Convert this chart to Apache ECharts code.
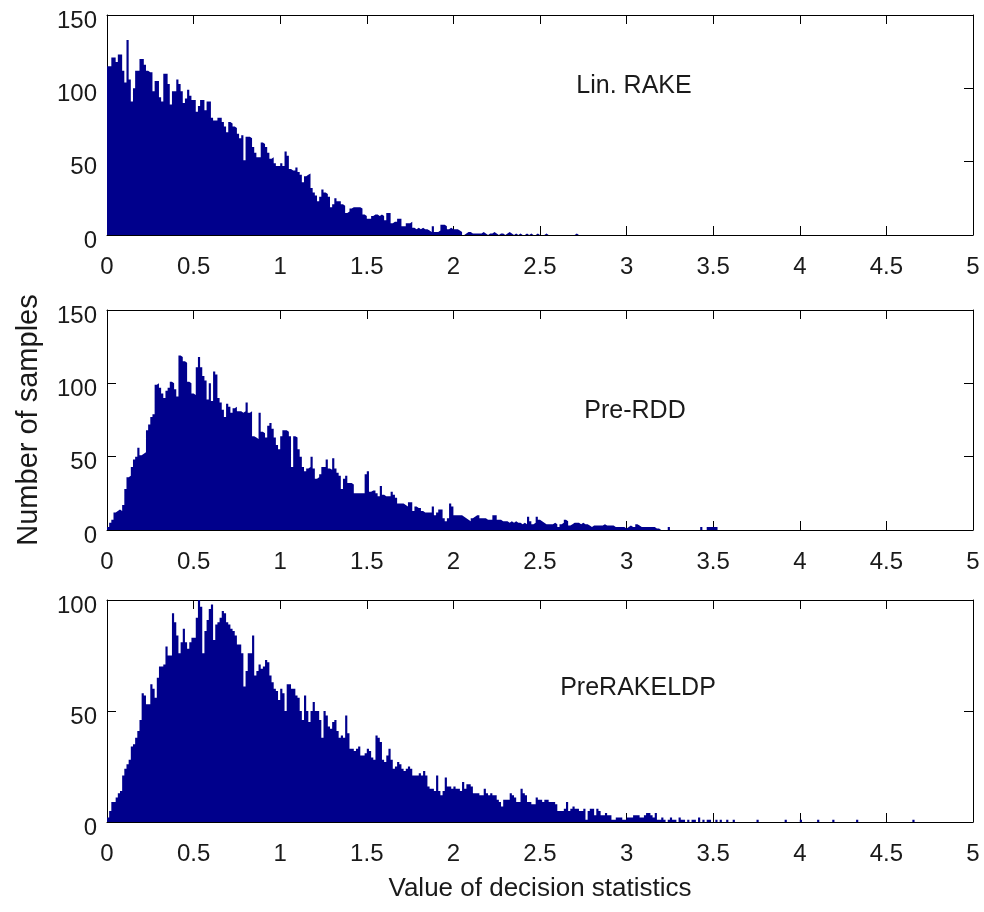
<!DOCTYPE html>
<html>
<head>
<meta charset="utf-8">
<script src="https://cdn.jsdelivr.net/npm/echarts@6/dist/echarts.min.js"></script>
<style>
html,body{margin:0;padding:0;background:#fff;}
#chart{width:984px;height:912px;}
</style>
</head>
<body>
<div id="chart"></div>
<script>
// Histogram bin width (value units); bins start at 0
const binWidth = 0.0125;
const xTicks = [0, 0.5, 1, 1.5, 2, 2.5, 3, 3.5, 4, 4.5, 5];
const panelLabels = ['Lin. RAKE', 'Pre-RDD', 'PreRAKELDP'];
const yMaxes = [150, 150, 100];
const xTitle = 'Value of decision statistics';
const yTitle = 'Number of samples';

// Lin. RAKE counts per bin
const linRake = [
115,115,121,121,118,123,123,112,104,133,
106,91,100,112,112,120,120,116,112,111,
111,98,105,105,94,91,110,110,103,89,
98,98,106,103,98,90,93,99,95,92,
92,84,88,92,92,85,91,91,80,78,
78,80,80,77,74,70,77,76,74,73,
69,66,68,51,67,67,66,60,56,53,
53,63,62,60,56,52,53,49,47,47,
49,47,57,54,45,44,44,46,43,41,
36,40,41,42,32,29,27,23,26,31,
29,28,26,19,21,25,23,23,21,20,
15,16,18,19,19,19,19,18,14,13,
11,11,13,14,14,13,14,13,10,15,
15,8,9,9,11,11,6,6,8,8,
9,5,4,5,4,5,4,4,3,2,
6,2,2,3,7,7,6,4,5,4,
4,4,3,2,0,1,2,2,1,1,
1,1,1,2,1,0,1,1,2,1,
0,1,1,0,1,2,1,0,1,0,
1,0,0,1,0,1,0,0,1,0,
0,0,1,0,0,0,0,0,0,0,
0,0,0,0,0,0,1,0,0,0,
0,0,0,0,0,1
];

// Pre-RDD counts per bin
const preRdd = [
2,5,7,12,13,14,13,17,28,36,
37,43,48,50,56,51,52,53,68,72,
77,79,99,100,97,93,90,95,97,101,
100,96,91,119,118,115,114,101,100,93,
92,111,118,111,105,102,89,100,88,108,
106,90,87,82,77,86,84,80,83,84,
81,81,80,81,87,80,81,64,63,62,
80,67,66,63,71,73,69,63,58,55,
64,68,68,67,64,43,64,63,55,50,
43,40,42,43,50,42,35,36,38,43,
43,48,42,41,49,42,39,37,28,35,
37,32,32,31,25,25,25,25,25,38,
40,26,27,27,25,23,30,24,23,23,
23,26,24,22,18,18,18,17,16,19,
19,13,16,15,15,13,12,12,12,12,
16,10,12,14,14,8,6,8,18,16,
10,10,10,10,9,8,7,6,8,9,
10,10,8,8,8,7,7,7,10,10,
7,7,6,6,6,5,6,5,6,5,
5,4,5,4,9,6,4,5,9,7,
6,5,4,4,4,4,5,4,2,4,
5,7,6,3,4,5,5,5,4,5,
4,4,3,2,3,3,3,3,3,4,
3,3,3,3,2,2,2,2,2,1,
2,3,2,2,4,3,2,2,2,2,
2,2,2,1,1,0,0,0,0,2,
0,0,0,0,0,0,0,0,0,0,
0,0,0,0,2,0,0,2,2,2,
2,2
];

// PreRAKELDP counts per bin
const preRakeLdp = [
2,5,9,9,11,13,14,21,24,26,
28,34,35,38,41,46,58,57,53,53,
62,60,56,65,70,70,71,79,75,75,
94,90,84,76,81,87,81,78,81,83,
83,92,100,97,76,86,91,96,98,82,
89,90,92,95,94,90,89,87,86,84,
80,80,76,61,68,76,76,84,66,68,
71,69,70,73,72,66,63,60,59,55,
60,58,50,62,62,60,60,57,56,50,
46,57,50,45,50,54,50,50,46,38,
50,48,43,42,45,46,41,38,39,38,
48,40,33,33,32,33,34,30,30,31,
33,32,29,28,39,38,36,28,27,30,
33,28,24,25,27,26,24,23,24,25,
24,21,21,21,22,21,23,21,16,15,
15,14,21,14,12,14,20,16,16,15,
16,15,15,14,18,15,17,17,16,13,
13,13,12,12,15,13,12,13,12,12,
10,9,7,10,10,10,13,12,11,9,
9,15,13,12,9,9,8,8,11,10,
10,9,10,10,9,9,9,8,5,5,
5,6,9,5,6,7,6,6,5,5,
6,1,5,6,6,3,6,5,3,3,
4,3,3,1,1,2,2,2,1,1,
2,2,2,3,3,3,2,2,3,4,
4,3,2,4,1,1,2,1,0,1,
2,1,1,0,2,1,1,0,1,0,
1,1,0,2,0,1,0,1,1,0,
0,1,0,1,0,0,1,0,0,1,
0,0,0,0,0,0,0,0,0,0,
1,0,0,0,0,0,0,0,0,0,
0,0,0,1,0,0,0,0,0,0,
1,0,0,0,0,0,0,0,1,0,
0,0,0,0,0,1,0,0,0,0,
0,0,0,0,0,0,1,0,0,0,
0,0,0,0,0,0,0,0,0,0,
0,0,0,0,0,0,0,0,0,0,
0,0,1
];

const seriesCounts = [linRake, preRdd, preRakeLdp];

const FONT = 'Liberation Sans, Arial, Helvetica, sans-serif';
const TXT = '#1a1a1a';
const BAR = '#00008C';

const gridDefs = [
  {left: 107, top: 15, width: 866, height: 220},
  {left: 107, top: 310, width: 866, height: 220},
  {left: 107, top: 600, width: 866, height: 222}
];
const annotPos = [[634, 86], [635, 411], [638, 688]];

// histogram as stepped outline: point at each bin's left edge, closing point at last right edge
function binsToSteps(counts) {
  const out = counts.map((c, i) => [i * binWidth, c]);
  out.push([counts.length * binWidth, 0]);
  return out;
}

const axisLineStyle = {show: true, onZero: false, lineStyle: {color: '#000', width: 1}};
const tickStyle = {show: true, inside: true, length: 9, lineStyle: {color: '#000', width: 1}};

const xAxis = [], yAxis = [], series = [];
gridDefs.forEach((g, i) => {
  const bottom = {
    gridIndex: i, type: 'value', position: 'bottom', min: 0, max: 5, interval: 0.5,
    axisLine: axisLineStyle, axisTick: tickStyle, splitLine: {show: false},
    axisLabel: {show: true, fontSize: 24, fontFamily: FONT, color: TXT, margin: 20,
      formatter: v => (xTicks.indexOf(v) >= 0 ? String(v) : '')}
  };
  if (i === 2) {
    bottom.name = xTitle;
    bottom.nameLocation = 'middle';
    bottom.nameGap = 54;
    bottom.nameTextStyle = {fontSize: 26, fontFamily: FONT, color: TXT};
  }
  xAxis.push(bottom);
  xAxis.push({
    gridIndex: i, type: 'value', position: 'top', min: 0, max: 5, interval: 0.5,
    axisLine: axisLineStyle, axisTick: tickStyle, splitLine: {show: false},
    axisLabel: {show: false}
  });
  const left = {
    gridIndex: i, type: 'value', position: 'left', min: 0, max: yMaxes[i], interval: 50,
    axisLine: axisLineStyle, axisTick: tickStyle, splitLine: {show: false},
    axisLabel: {show: true, fontSize: 24, fontFamily: FONT, color: TXT, margin: 10,
      verticalAlign: 'top', lineHeight: 12}
  };
  if (i === 1) {
    left.name = yTitle;
    left.nameLocation = 'middle';
    left.nameGap = 64;
    left.nameTextStyle = {fontSize: 29, fontFamily: FONT, color: TXT};
  }
  yAxis.push(left);
  yAxis.push({
    gridIndex: i, type: 'value', position: 'right', min: 0, max: yMaxes[i], interval: 50,
    axisLine: axisLineStyle, axisTick: tickStyle, splitLine: {show: false},
    axisLabel: {show: false}
  });
  series.push({
    type: 'line', name: panelLabels[i],
    xAxisIndex: 2 * i, yAxisIndex: 2 * i,
    step: 'end',
    showSymbol: false,
    symbol: 'none',
    lineStyle: {width: 0, color: BAR},
    itemStyle: {color: BAR},
    areaStyle: {color: BAR, opacity: 1, origin: 'start'},
    data: binsToSteps(seriesCounts[i]),
    clip: true,
    z: 1
  });
});

const graphic = panelLabels.map((t, i) => ({
  type: 'text', x: annotPos[i][0], y: annotPos[i][1], z: 100,
  style: {text: t, fontSize: 25, fontFamily: FONT, fill: TXT, align: 'center', verticalAlign: 'middle'}
}));

const chart = echarts.init(document.getElementById('chart'), null, {renderer: 'canvas'});
chart.setOption({
  backgroundColor: '#ffffff',
  animation: false,
  grid: gridDefs,
  xAxis: xAxis,
  yAxis: yAxis,
  series: series,
  graphic: graphic
});
</script>
</body>
</html>
